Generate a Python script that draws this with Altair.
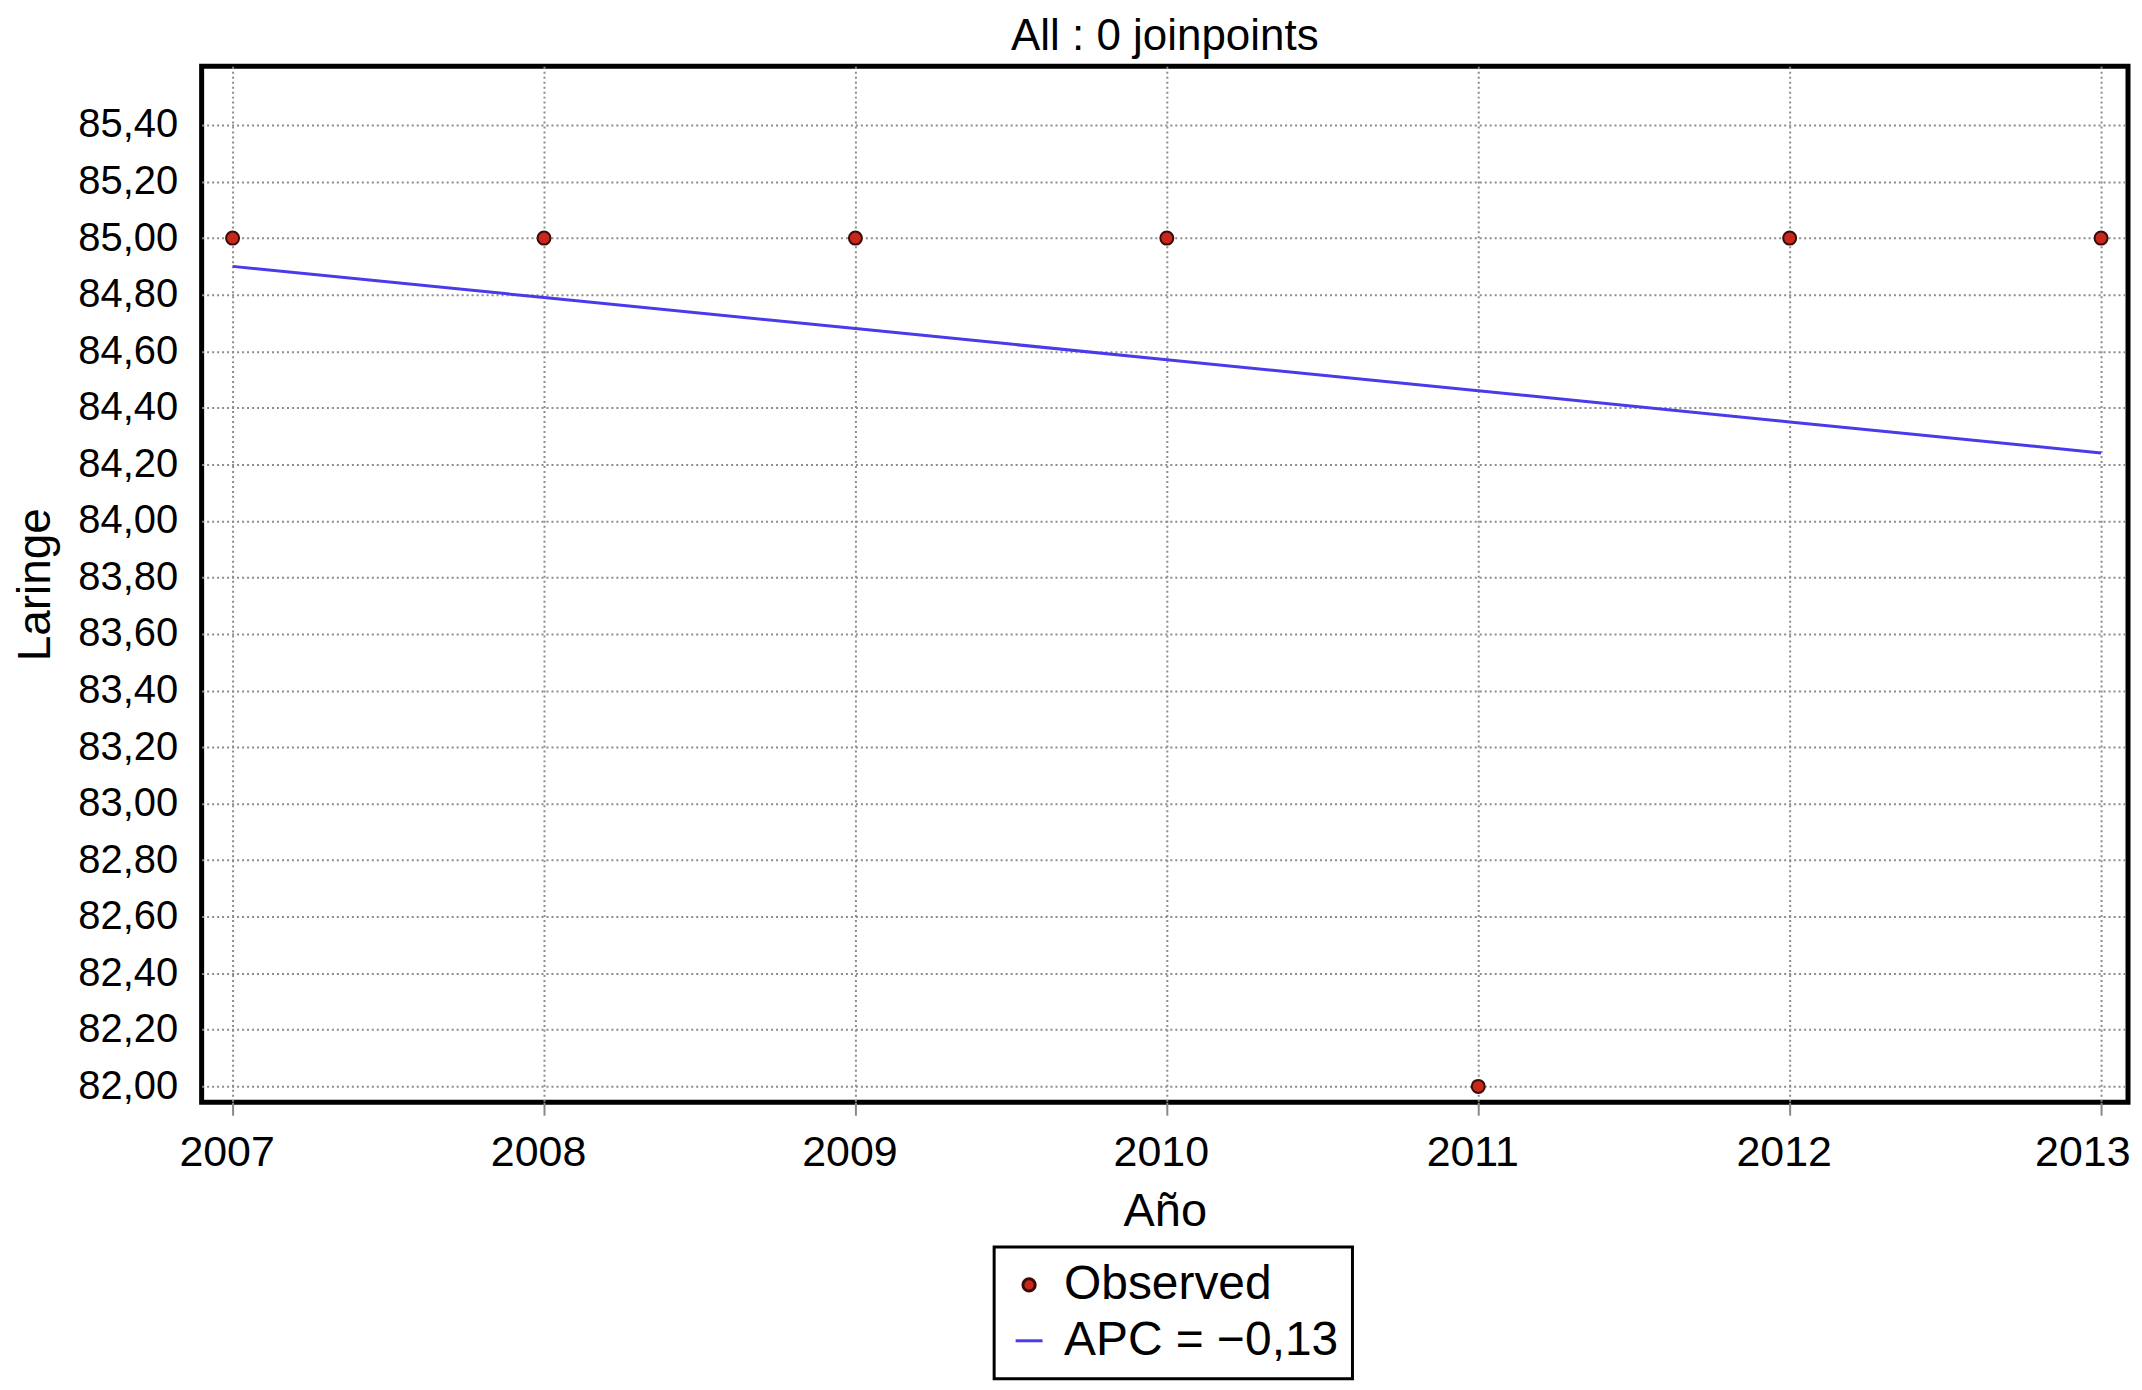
import altair as alt
import pandas as pd

# ---- data ----
years = [2007, 2008, 2009, 2010, 2011, 2012, 2013]
observed = [85.0, 85.0, 85.0, 85.0, 82.0, 85.0, 85.0]
fitted = [84.90, 84.79, 84.68, 84.57, 84.46, 84.35, 84.24]
series_names = ["Observed", "APC = \u22120,13"]
y_ticks = [82.0, 82.2, 82.4, 82.6, 82.8, 83.0, 83.2, 83.4, 83.6, 83.8,
           84.0, 84.2, 84.4, 84.6, 84.8, 85.0, 85.2, 85.4]
title_text = "All : 0 joinpoints"
x_title = "Año"
y_title = "Laringe"

FONT = "Liberation Sans"
point_fill = "#c8281c"
point_edge = "#3a0c08"
line_color = "#4a3aea"

df = pd.DataFrame({
    "year": years + years,
    "value": observed + fitted,
    "series": [series_names[0]] * len(years) + [series_names[1]] * len(years),
})

xscale = alt.Scale(domain=[2006.9006, 2013.0865], nice=False, zero=False)
yscale = alt.Scale(domain=[81.944, 85.608], nice=False, zero=False)

grid_kw = dict(grid=True, gridColor="#8c8c8c", gridDash=[2, 3], gridWidth=2, domain=False)

x_axis = alt.Axis(values=years, format="d", title=x_title, labelFont=FONT, labelFontSize=43,
                  labelColor="black", titleFont=FONT, titleFontSize=47, titleFontWeight="normal",
                  titleColor="black", ticks=True, tickSize=13, tickColor="#888888", tickWidth=2,
                  labelPadding=16, titlePadding=14, labelFlush=28, labelFlushOffset=35,
                  labelOverlap=False, labelOffset=-6, labelBound=False, **grid_kw)
y_axis = alt.Axis(values=y_ticks, labelExpr="replace(format(datum.value, '.2f'), '.', ',')",
                  title=y_title, labelFont=FONT, labelFontSize=40, labelColor="black",
                  titleFont=FONT, titleFontSize=46, titleFontWeight="normal", titleColor="black",
                  ticks=False, labelPadding=24, titlePadding=18, labelOverlap=False,
                  labelBound=False, **grid_kw)

legend = alt.Legend(title=None, orient="none", legendX=794, legendY=1183, direction="vertical",
                    labelFont=FONT, labelFontSize=48, labelColor="black", labelLimit=0,
                    symbolSize=150, symbolStrokeWidth=3, symbolOpacity=1,
                    strokeColor="black", fillColor="white", padding=14,
                    rowPadding=8, symbolOffset=-3, labelOffset=11)

fill_scale = alt.Scale(domain=series_names, range=[point_fill, "transparent"])
stroke_scale = alt.Scale(domain=series_names, range=[point_edge, line_color])
shape_scale = alt.Scale(domain=series_names, range=["circle", "M-2.2,0H2.2"])

base = alt.Chart(df)

line = base.transform_filter(alt.datum.series == series_names[1]).mark_line(strokeWidth=3).encode(
    x=alt.X("year:Q", scale=xscale, axis=x_axis),
    y=alt.Y("value:Q", scale=yscale, axis=y_axis),
    stroke=alt.Stroke("series:N", scale=stroke_scale, legend=legend),
)

points = base.transform_filter(alt.datum.series == series_names[0]).mark_point(
    filled=True, size=170, opacity=1, strokeWidth=2).encode(
    x=alt.X("year:Q", scale=xscale, axis=x_axis),
    y=alt.Y("value:Q", scale=yscale, axis=y_axis),
    fill=alt.Fill("series:N", scale=fill_scale, legend=legend),
    stroke=alt.Stroke("series:N", scale=stroke_scale, legend=legend),
    shape=alt.Shape("series:N", scale=shape_scale, legend=legend),
)

chart = alt.layer(line, points).properties(
    width=1930,
    height=1038,
    autosize=alt.AutoSizeParams(type="none"),
    padding={"left": 194, "top": 57, "right": 6, "bottom": 279},
    title=alt.TitleParams(title_text, font=FONT, fontSize=44, fontWeight="normal", color="black",
                          anchor="middle", frame="group", offset=7),
    background="white",
).configure_view(stroke="black", strokeWidth=5, fill="white").configure_legend(strokeWidth=3)

chart.save("out.html", embed_options={"renderer": "svg", "actions": False})
